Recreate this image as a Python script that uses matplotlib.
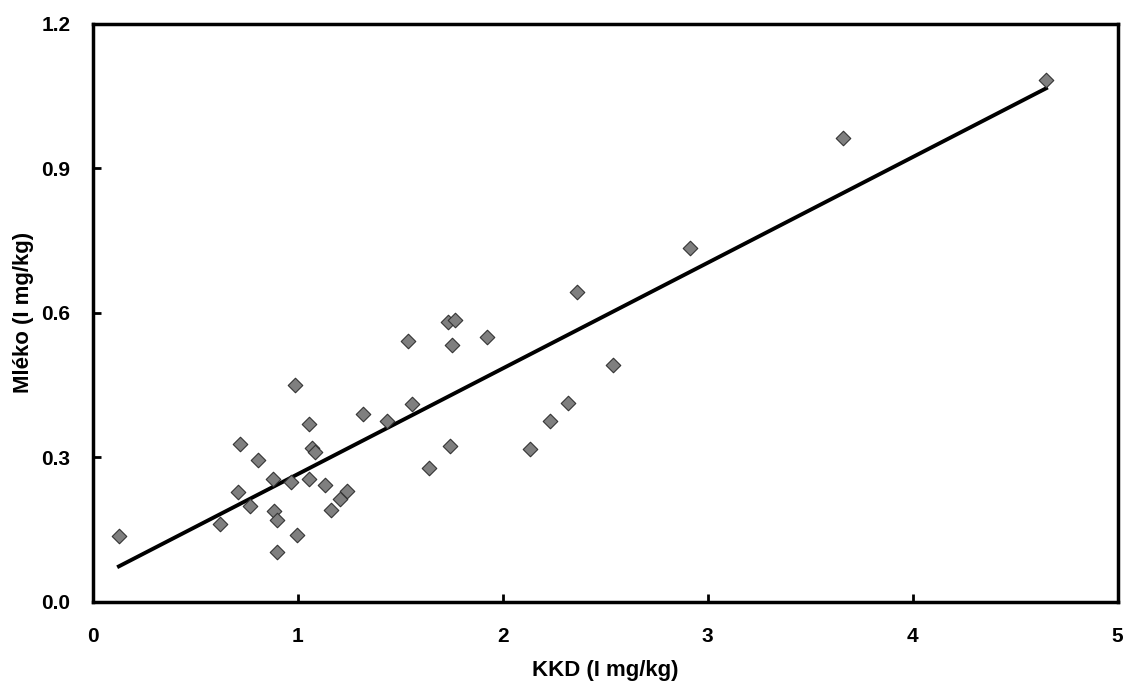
import numpy as np
import matplotlib.pyplot as plt

plt.rcParams['font.family'] = ['Liberation Sans', 'DejaVu Sans']
plt.rcParams['font.weight'] = 'bold'

kkd = [0.128, 0.623, 0.708, 0.720, 0.770, 0.809, 0.879, 0.887, 0.898, 0.898,
       0.969, 0.989, 0.997, 1.057, 1.057, 1.068, 1.086, 1.135, 1.162, 1.206,
       1.243, 1.321, 1.435, 1.559, 1.540, 1.641, 1.743, 1.733, 1.766, 1.754,
       1.924, 2.135, 2.232, 2.317, 2.364, 2.539, 2.915, 3.660, 4.651]
mleko = [0.136, 0.161, 0.228, 0.328, 0.200, 0.294, 0.255, 0.189, 0.170, 0.104,
         0.248, 0.450, 0.139, 0.369, 0.255, 0.320, 0.311, 0.243, 0.191, 0.214,
         0.231, 0.391, 0.375, 0.410, 0.541, 0.278, 0.323, 0.581, 0.586, 0.533,
         0.550, 0.317, 0.376, 0.412, 0.644, 0.491, 0.734, 0.963, 1.083]

x = np.array(kkd)
y = np.array(mleko)
# linear trend line
slope, intercept = np.polyfit(x, y, 1)

fig = plt.figure(figsize=(11.3, 6.84), dpi=100)
ax = fig.add_axes([0.082, 0.12, 0.907, 0.845])

ax.scatter(x, y, marker='D', s=55, color='#7f7f7f', edgecolors='#333333',
           linewidths=0.8, zorder=3)
xl = np.array([x.min(), x.max()])
ax.plot(xl, slope * xl + intercept, color='black', lw=2.8, zorder=2)

ax.set_xlim(0, 5)
ax.set_ylim(0, 1.2)
ax.set_xticks([0, 1, 2, 3, 4, 5])
ax.set_yticks([0, 0.3, 0.6, 0.9, 1.2])
ax.set_yticklabels(['0.0', '0.3', '0.6', '0.9', '1.2'])
for s in ax.spines.values():
    s.set_linewidth(2.5)
ax.tick_params(direction='in', length=6, width=2, labelsize=15)
ax.tick_params(axis='x', pad=18)
ax.tick_params(axis='y', pad=16)

ax.set_xlabel('KKD (I mg/kg)', fontsize=16, fontweight='bold', labelpad=10)
ax.set_ylabel('Mléko (I mg/kg)', fontsize=16, fontweight='bold', labelpad=5)

fig.savefig('out.png', dpi=100)
